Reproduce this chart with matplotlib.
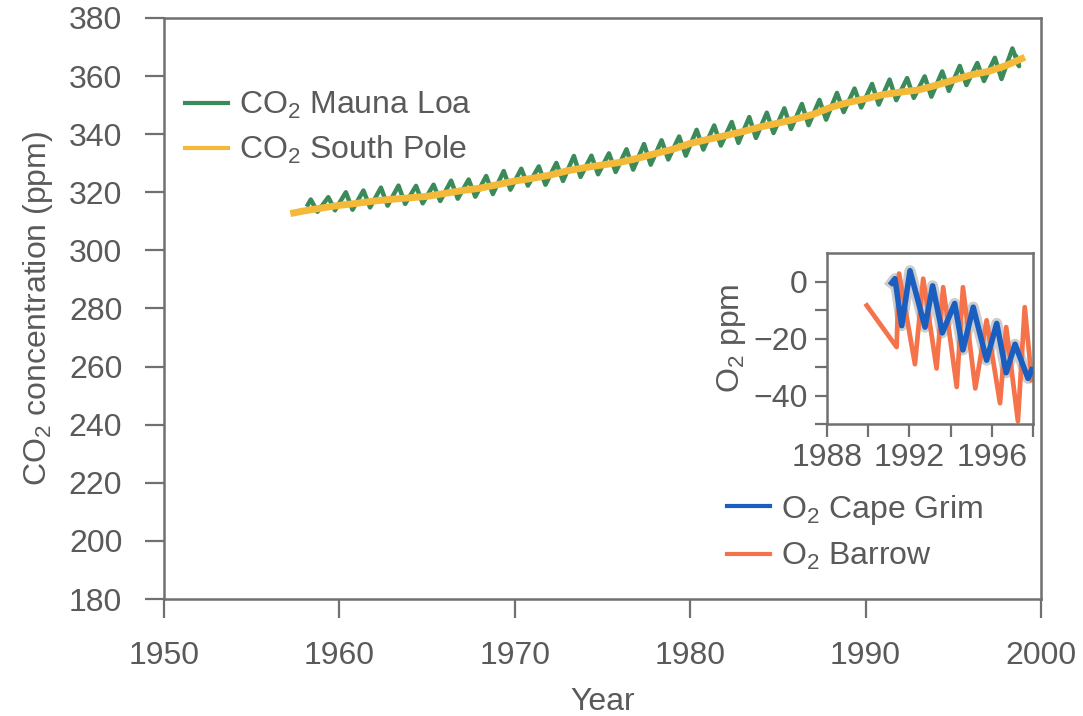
import matplotlib
matplotlib.use("Agg")
import matplotlib.pyplot as plt
from matplotlib.ticker import FixedLocator

plt.rcParams['font.family'] = ['Liberation Sans', 'DejaVu Sans']
plt.rcParams['mathtext.default'] = 'regular'

# ---- Main panel data (CO2, ppm) ----
ml_years = list(range(1958, 1999))
ml_peaks = [317.5, 318.3, 320.0, 320.6, 321.6, 322.3, 322.2, 322.6, 324.0, 324.4,
            325.6, 327.3, 328.1, 328.9, 330.1, 332.5, 332.6, 333.4, 334.8, 336.6,
            337.9, 339.2, 341.5, 343.0, 344.2, 345.9, 347.4, 348.9, 350.4, 351.8,
            354.2, 355.7, 357.3, 358.8, 359.3, 359.9, 361.6, 363.5, 364.5, 366.3, 369.5]
ml_troughs = [313.3, 313.8, 314.0, 314.8, 315.4, 316.0, 316.2, 317.0, 317.8, 318.5,
              319.4, 320.9, 322.3, 322.6, 323.9, 325.3, 326.2, 327.0, 327.8, 329.5,
              331.3, 332.6, 334.7, 336.1, 337.0, 338.7, 340.4, 341.8, 343.1, 345.0,
              347.6, 349.2, 350.2, 351.7, 352.5, 352.9, 354.9, 356.9, 358.3, 359.0, 363.4]
ml_start = (1958.2, 315.7)
ml_end = (1998.6, 366.5)

sp_years = [1957.4, 1958, 1959, 1960, 1961, 1962, 1963, 1964, 1965, 1966, 1967, 1968,
            1969, 1970, 1971, 1972, 1973, 1974, 1975, 1976, 1977, 1978, 1979, 1980,
            1981, 1982, 1983, 1984, 1985, 1986, 1987, 1988, 1989, 1990, 1991, 1992,
            1993, 1994, 1995, 1996, 1997, 1998, 1998.9]
sp_values = [312.9, 313.6, 314.6, 315.5, 316.2, 317.0, 317.6, 318.1, 318.6, 319.6,
             320.6, 321.4, 322.6, 323.9, 324.8, 325.9, 327.4, 328.5, 329.4, 330.3,
             331.7, 333.3, 334.8, 336.8, 338.2, 339.5, 340.9, 342.5, 343.8, 345.2,
             346.8, 349.2, 350.9, 352.2, 353.6, 354.5, 355.2, 356.8, 358.6, 360.4,
             361.6, 363.6, 366.0]

# ---- Inset data (O2, ppm) ----
cg_years = [1991.14, 1991.3, 1991.63, 1992.03, 1992.76, 1993.13, 1993.6, 1994.2,
            1994.6, 1995.1, 1995.75, 1996.24, 1996.7, 1997.13, 1997.76, 1997.94]
cg_values = [-0.5, 1.0, -15.5, 3.8, -16.0, -1.5, -18.0, -7.7, -24.0, -9.0, -27.6,
             -14.7, -32.0, -22.0, -34.0, -31.0]
br_years = [1989.93, 1991.38, 1991.5, 1992.27, 1992.67, 1993.32, 1993.64, 1994.3,
            1994.6, 1995.2, 1995.75, 1996.4, 1996.7, 1997.27, 1997.6, 1997.94]
br_values = [-8.4, -23.0, 2.8, -29.0, 1.0, -30.5, -2.0, -37.0, -2.0, -37.5, -13.6,
             -42.7, -16.0, -49.0, -9.0, -34.6]

main_yticks = [180, 200, 220, 240, 260, 280, 300, 320, 340, 360, 380]
main_xticks = [1950, 1960, 1970, 1980, 1990, 2000]
inset_xticks = [1988, 1990, 1992, 1994, 1996, 1998]
inset_xlabels = ['1988', '', '1992', '', '1996', '']
inset_yticks = [-50, -40, -30, -20, -10, 0]
inset_ylabels = ['', '\u221240', '', '\u221220', '', '0']

# build zig-zag for Mauna Loa
ml_x = [ml_start[0]]
ml_y = [ml_start[1]]
for yr, pk, tr in zip(ml_years, ml_peaks, ml_troughs):
    ml_x += [yr + 0.37, yr + 0.75]
    ml_y += [pk, tr]
ml_x.append(ml_end[0])
ml_y.append(ml_end[1])

TXT = '#5a5a5a'
SPINE = '#707070'
GREEN = '#3a8a5a'
YELLOW = '#f5b93a'
BLUE = '#1a5fc0'
ORANGE = '#f5734a'
FS = 23

fig = plt.figure(figsize=(10.83, 7.16), dpi=100)
ax = fig.add_axes([0.1514, 0.1634, 0.8098, 0.8115])

l1, = ax.plot(ml_x, ml_y, color=GREEN, lw=3.2, zorder=2,
              label=r'CO$_2$ Mauna Loa')
l2, = ax.plot(sp_years, sp_values, color=YELLOW, lw=5, zorder=3,
              label=r'CO$_2$ South Pole')

ax.set_xlim(1950, 2000)
ax.set_ylim(180, 380)
ax.xaxis.set_major_locator(FixedLocator(main_xticks))
ax.yaxis.set_major_locator(FixedLocator(main_yticks))
ax.tick_params(direction='out', length=14, width=1.6, color=SPINE, labelsize=FS,
               labelcolor=TXT, pad=16)
for s in ax.spines.values():
    s.set_color(SPINE)
    s.set_linewidth(1.8)
ax.set_xlabel('Year', fontsize=FS, color=TXT, labelpad=12)
ax.set_ylabel(r'CO$_2$ concentration (ppm)', fontsize=FS, color=TXT, labelpad=10)

leg = ax.legend(handles=[l1, l2], loc='upper left', bbox_to_anchor=(0.024, 0.876),
                frameon=False, fontsize=FS, labelcolor=TXT, handlelength=1.35,
                handletextpad=0.35, labelspacing=0.4, borderpad=0, borderaxespad=0)
for h in leg.get_lines():
    h.set_linewidth(3)

# ---- Inset ----
ax2 = fig.add_axes([0.7636, 0.4078, 0.1902, 0.2388])
ax2.plot(cg_years, cg_values, color='#b8b8b8', lw=8, zorder=1, alpha=0.7)
b1, = ax2.plot(br_years, br_values, color=ORANGE, lw=3.4, zorder=2,
               label=r'O$_2$ Barrow')
b2, = ax2.plot(cg_years, cg_values, color=BLUE, lw=4, zorder=3,
               label=r'O$_2$ Cape Grim')
ax2.set_xlim(1988, 1998)
ax2.set_ylim(-50, 10)
ax2.xaxis.set_major_locator(FixedLocator(inset_xticks))
ax2.yaxis.set_major_locator(FixedLocator(inset_yticks))
ax2.set_xticklabels(inset_xlabels)
ax2.set_yticklabels(inset_ylabels)
ax2.tick_params(direction='out', length=9, width=1.6, color=SPINE, labelsize=FS,
                labelcolor=TXT, pad=5)
for s in ax2.spines.values():
    s.set_color(SPINE)
    s.set_linewidth(1.8)
ax2.set_ylabel(r'O$_2$ ppm', fontsize=FS, color=TXT, labelpad=4)

leg2 = fig.legend(handles=[b2, b1], loc='upper left', bbox_to_anchor=(0.671, 0.312),
                  frameon=False, fontsize=FS, labelcolor=TXT, handlelength=1.35,
                  handletextpad=0.35, labelspacing=0.45, borderpad=0, borderaxespad=0)
for h in leg2.get_lines():
    h.set_linewidth(3)

fig.savefig('out.png', dpi=100)
